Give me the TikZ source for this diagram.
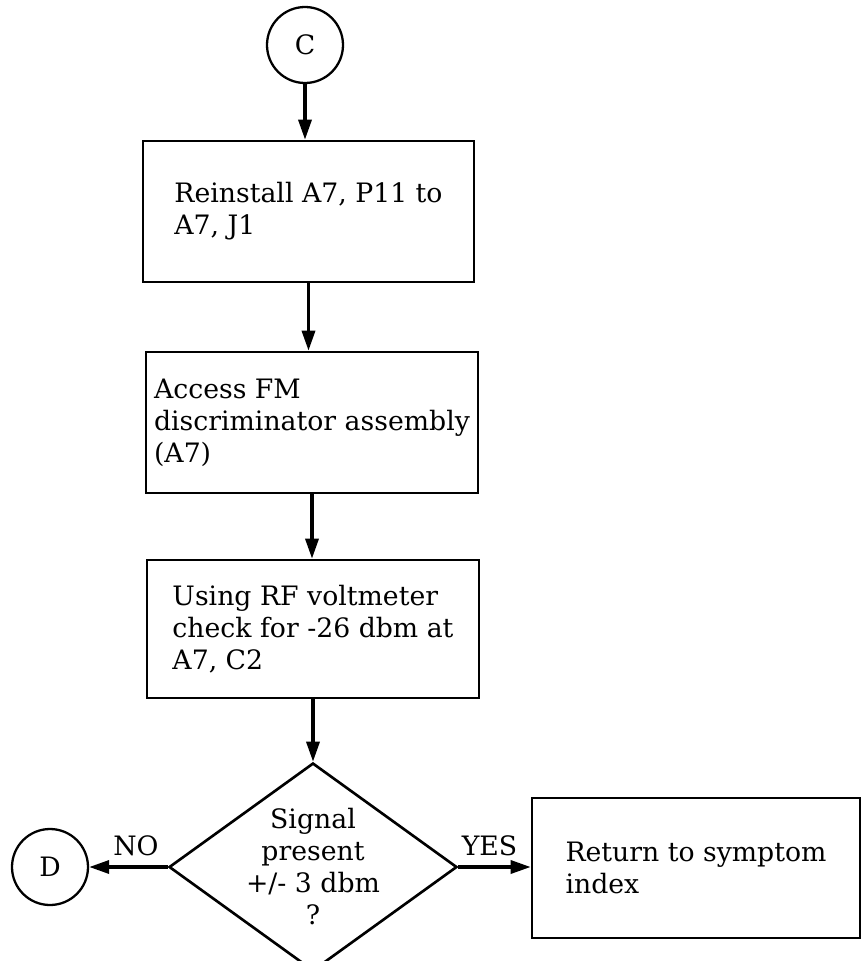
\documentclass[tikz,border=0pt]{standalone}
\usepackage{tikz}
\usetikzlibrary{shapes.geometric,arrows.meta,positioning}
\usepackage{fontspec}
\setmainfont{DejaVu Serif}
\newcommand{\flowfont}{\fontsize{15.2}{18.2}\selectfont}

\begin{document}
\begin{tikzpicture}[
  stepbox/.style={draw,line width=1.5pt,minimum width=6.62cm,minimum height=2.82cm,
              align=left,font=\flowfont},
  conn/.style={draw,circle,line width=1.3pt,minimum size=1.52cm,inner sep=0pt,
               font=\flowfont},
  decide/.style={draw,diamond,line width=1.5pt,aspect=1.4,inner sep=-0.3cm,
                 minimum width=5.76cm,minimum height=4.16cm,align=center,font=\flowfont},
  flow/.style={line width=1.9pt,-{Triangle[length=0.4cm,width=0.26cm]}},
  lbl/.style={font=\flowfont,above=2pt},
]
\useasboundingbox (0,0) rectangle (17.24,-19.22);
\node[conn] (c) at (6.10,-0.90) {C};
\node[stepbox] (reinst) at (6.17,-4.23) {Reinstall A7, P11 to\\A7, J1};
\node[stepbox,minimum width=6.64cm] (access) at (6.24,-8.45) {Access FM\\discriminator assembly\\(A7)};
\node[stepbox,minimum width=6.64cm,minimum height=2.76cm] (rfchk) at (6.26,-12.58) {Using RF voltmeter\\check for -26 dbm at\\A7, C2};
\node[decide] (sig) at (6.26,-17.34) {Signal\\present\\+/- 3 dbm\\?};
\node[conn] (d) at (1.00,-17.34) {D};
\node[stepbox,minimum width=6.56cm,minimum height=2.80cm] (ret) at (13.92,-17.36) {Return to symptom\\index};
\draw[flow] (c.south) -- (c.south |- reinst.north);
\draw[flow] (reinst.south) -- (reinst.south |- access.north);
\draw[flow] (access.south) -- (access.south |- rfchk.north);
\draw[flow] (rfchk.south) -- (sig.north);
\draw[flow] (sig.west) -- (d.east) node[lbl,midway,xshift=0.15cm]{NO};
\draw[flow] (sig.east) -- (sig.east -| ret.west) node[lbl,midway,xshift=-0.1cm]{YES};
\end{tikzpicture}
\end{document}
